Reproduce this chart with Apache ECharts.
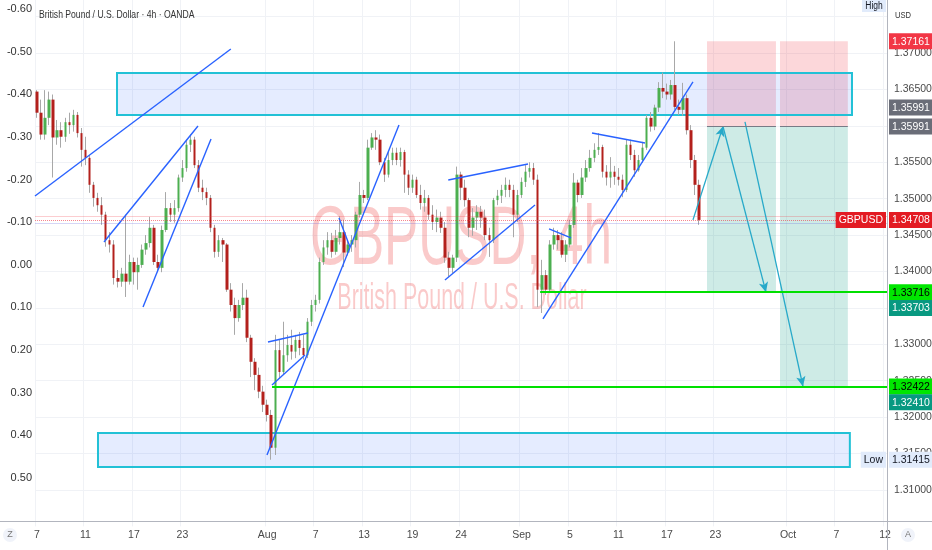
<!DOCTYPE html>
<html>
<head>
<meta charset="utf-8">
<script src="https://cdn.jsdelivr.net/npm/echarts@6/dist/echarts.min.js"></script>
<style>
html,body{margin:0;padding:0;background:#fff;}
#c{width:932px;height:550px;}
</style>
</head>
<body>
<div id="c"></div>
<script>
// ---------------- data ----------------
const headerText = 'British Pound / U.S. Dollar · 4h · OANDA';
const watermarkMain = 'GBPUSD, 4h';
const watermarkSub = 'British Pound / U.S. Dollar';
const startDate = '2025-07-07';
const slotCount = 211;          // 8h slots incl. empty future area
const candlesPerDay = 3;

const tickDates  = ['2025-07-07','2025-07-11','2025-07-17','2025-07-23','2025-08-01','2025-08-07','2025-08-13','2025-08-19','2025-08-24','2025-09-01','2025-09-05','2025-09-11','2025-09-17','2025-09-23','2025-10-01','2025-10-07','2025-10-12'];
const tickLabels = ['7','11','17','23','Aug','7','13','19','24','Sep','5','11','17','23','Oct','7','12'];

// [open, close, low, high] – 8h candles, GBPUSD
const ohlc = [
[1.3647,1.3618,1.3611,1.3649],[1.3618,1.3588,1.3581,1.3636],[1.3588,1.3611,1.3581,1.3649],[1.3611,1.3636,1.3601,1.3647],
[1.3636,1.3584,1.3529,1.3643],[1.3584,1.3594,1.3574,1.3608],[1.3594,1.3585,1.3570,1.3605],[1.3585,1.3605,1.3578,1.3611],
[1.3605,1.3601,1.3589,1.3618],[1.3601,1.3615,1.3592,1.3622],[1.3615,1.3590,1.3584,1.3619],[1.3590,1.3567,1.3544,1.3597],
[1.3567,1.3556,1.3546,1.3585],[1.3556,1.3519,1.3508,1.3560],[1.3519,1.3501,1.3489,1.3523],[1.3501,1.3491,1.3482,1.3508],
[1.3491,1.3478,1.3464,1.3502],[1.3478,1.3443,1.3434,1.3482],[1.3443,1.3437,1.3426,1.3454],[1.3437,1.3391,1.3382,1.3443],
[1.3391,1.3386,1.3378,1.3402],[1.3386,1.3397,1.3379,1.3405],[1.3397,1.3386,1.3365,1.3478],[1.3386,1.3413,1.3382,1.3423],
[1.3413,1.3399,1.3382,1.3419],[1.3399,1.3409,1.3375,1.3419],[1.3409,1.3430,1.3405,1.3437],[1.3430,1.3439,1.3423,1.3450],
[1.3439,1.3460,1.3433,1.3475],[1.3460,1.3413,1.3409,1.3464],[1.3413,1.3405,1.3399,1.3423],[1.3405,1.3457,1.3399,1.3463],
[1.3457,1.3487,1.3454,1.3509],[1.3487,1.3478,1.3468,1.3494],[1.3478,1.3487,1.3467,1.3498],[1.3487,1.3529,1.3482,1.3533],
[1.3529,1.3542,1.3523,1.3553],[1.3542,1.3574,1.3537,1.3581],[1.3574,1.3581,1.3564,1.3588],[1.3581,1.3546,1.3542,1.3585],
[1.3546,1.3515,1.3509,1.3553],[1.3515,1.3509,1.3498,1.3526],[1.3509,1.3501,1.3491,1.3515],[1.3501,1.3460,1.3454,1.3505],
[1.3460,1.3427,1.3419,1.3464],[1.3427,1.3443,1.3420,1.3450],[1.3443,1.3437,1.3413,1.3446],[1.3437,1.3375,1.3372,1.3439],
[1.3375,1.3354,1.3345,1.3384],[1.3354,1.3336,1.3313,1.3364],[1.3336,1.3354,1.3331,1.3361],[1.3354,1.3364,1.3347,1.3384],
[1.3364,1.3309,1.3303,1.3375],[1.3309,1.3276,1.3255,1.3313],[1.3276,1.3258,1.3237,1.3281],[1.3258,1.3235,1.3226,1.3268],
[1.3235,1.3217,1.3207,1.3243],[1.3217,1.3203,1.3194,1.3224],[1.3203,1.3158,1.31415,1.3210],[1.3158,1.3292,1.3148,1.3313],
[1.3292,1.3262,1.3254,1.3306],[1.3262,1.3285,1.3258,1.3331],[1.3285,1.3299,1.3276,1.3313],[1.3299,1.3290,1.3279,1.3320],
[1.3290,1.3306,1.3281,1.3313],[1.3306,1.3295,1.3285,1.3317],[1.3295,1.3285,1.3279,1.3313],[1.3285,1.3331,1.3281,1.3336],
[1.3331,1.3354,1.3325,1.3361],[1.3354,1.3361,1.3345,1.3368],[1.3361,1.3413,1.3356,1.3419],[1.3413,1.3433,1.3409,1.3443],
[1.3433,1.3443,1.3423,1.3454],[1.3443,1.3427,1.3419,1.3453],[1.3427,1.3446,1.3423,1.3457],[1.3446,1.3454,1.3437,1.3476],
[1.3454,1.3426,1.3406,1.3471],[1.3426,1.3437,1.3422,1.3443],[1.3437,1.3443,1.3427,1.3450],[1.3443,1.3478,1.3433,1.3482],
[1.3478,1.3505,1.3474,1.3523],[1.3505,1.3501,1.3494,1.3512],[1.3501,1.3570,1.3498,1.3581],[1.3570,1.3584,1.3567,1.3590],
[1.3584,1.3581,1.3567,1.3594],[1.3581,1.3550,1.3546,1.3588],[1.3550,1.3533,1.3523,1.3556],[1.3533,1.3553,1.3529,1.3564],
[1.3553,1.3563,1.3546,1.3570],[1.3563,1.3553,1.3546,1.3570],[1.3553,1.3564,1.3544,1.3570],[1.3564,1.3533,1.3508,1.3567],
[1.3533,1.3515,1.3505,1.3539],[1.3515,1.3526,1.3508,1.3533],[1.3526,1.3505,1.3501,1.3530],[1.3505,1.3494,1.3485,1.3519],
[1.3494,1.3501,1.3482,1.3512],[1.3501,1.3478,1.3471,1.3505],[1.3478,1.3468,1.3457,1.3491],[1.3468,1.3474,1.3454,1.3485],
[1.3474,1.3460,1.3453,1.3482],[1.3460,1.3419,1.3412,1.3468],[1.3419,1.3405,1.3393,1.3427],[1.3405,1.3419,1.3398,1.3423],
[1.3419,1.3533,1.3413,1.3544],[1.3533,1.3515,1.3498,1.3537],[1.3515,1.3498,1.3489,1.3526],[1.3498,1.3460,1.3447,1.3501],
[1.3460,1.3474,1.3449,1.3487],[1.3474,1.3482,1.3457,1.3491],[1.3482,1.3474,1.3460,1.3490],[1.3474,1.3450,1.3443,1.3485],
[1.3450,1.3443,1.3420,1.3460],[1.3443,1.3498,1.3439,1.3501],[1.3498,1.3504,1.3491,1.3512],[1.3504,1.3512,1.3494,1.3519],
[1.3512,1.3519,1.3502,1.3529],[1.3519,1.3512,1.3502,1.3526],[1.3512,1.3478,1.3447,1.3519],[1.3478,1.3505,1.3468,1.3512],
[1.3505,1.3523,1.3501,1.3529],[1.3523,1.3537,1.3516,1.3546],[1.3537,1.3542,1.3529,1.3550],[1.3542,1.3526,1.3519,1.3549],
[1.3526,1.3375,1.3351,1.3533],[1.3375,1.3395,1.3343,1.3416],[1.3395,1.3375,1.3368,1.3402],[1.3375,1.3437,1.3371,1.3443],
[1.3437,1.3450,1.3430,1.3460],[1.3450,1.3443,1.3430,1.3457],[1.3443,1.3423,1.3419,1.3454],[1.3423,1.3437,1.3413,1.3443],
[1.3437,1.3464,1.3433,1.3471],[1.3464,1.3522,1.3460,1.3535],[1.3522,1.3505,1.3495,1.3526],[1.3505,1.3529,1.3501,1.3542],
[1.3529,1.3542,1.3523,1.3553],[1.3542,1.3556,1.3537,1.3567],[1.3556,1.3567,1.3550,1.3576],[1.3567,1.3571,1.3560,1.3590],
[1.3571,1.3537,1.3529,1.3574],[1.3537,1.3529,1.3518,1.3546],[1.3529,1.3537,1.3515,1.3557],[1.3537,1.3530,1.3519,1.3545],
[1.3530,1.3526,1.3518,1.3542],[1.3526,1.3512,1.3502,1.3533],[1.3512,1.3574,1.3509,1.3581],[1.3574,1.3560,1.3553,1.3581],
[1.3560,1.3539,1.3530,1.3567],[1.3539,1.3553,1.3537,1.3560],[1.3553,1.3570,1.3549,1.3578],[1.3570,1.3611,1.3567,1.3615],
[1.3611,1.3599,1.3592,1.3619],[1.3599,1.3625,1.3594,1.3629],[1.3625,1.3652,1.3619,1.3660],[1.3652,1.3647,1.3638,1.3673],
[1.3647,1.3643,1.3636,1.3658],[1.3643,1.3656,1.3636,1.3663],[1.3656,1.3626,1.3622,1.37161],[1.3626,1.3622,1.3615,1.3636],
[1.3622,1.3638,1.3614,1.3659],[1.3638,1.3594,1.3588,1.3643],[1.3594,1.3553,1.3542,1.3601],[1.3553,1.3519,1.3505,1.3560],
[1.3519,1.34708,1.3464,1.3526]
];

// drawings in (slot index, price)
const trendLines = [
  [-0.5, 1.35037, 48.0, 1.37055],
  [16.59, 1.34405, 39.87, 1.35998],
  [26.25, 1.33513, 43.09, 1.35819],
  [56.95, 1.31481, 89.64, 1.36012],
  [57.2, 1.33032, 67.1, 1.33156],
  [58.19, 1.32442, 66.36, 1.32854],
  [74.78, 1.34735, 77.51, 1.34337],
  [101.85, 1.35256, 121.59, 1.35476],
  [101.03, 1.33883, 123.32, 1.34913],
  [125.3, 1.33348, 162.45, 1.36602],
  [126.8, 1.34584, 132.24, 1.34460],
  [137.44, 1.35902, 150.57, 1.35765]
];
const projectionPaths = [
  [[162.45, 1.34708], [169.88, 1.35991], [180.53, 1.33716]],
  [[175.33, 1.36053], [189.69, 1.32422]]
];
const supplyZone = [19.81, 1.36726, 201.83, 1.36149];
const demandZone = [15.1, 1.31783, 201.3, 1.31316];
const positionFrom   = [165.92, 184.0];
const positionTo     = [183.0, 200.8];
const positionEntry  = [1.35991, 1.35991];
const positionStop   = [1.37161, 1.37161];
const positionTarget = [1.33716, 1.32422];
const targetTags     = [1.33703, 1.32410];
const levelPrices = [1.33716, 1.32422];
const levelStarts = [124.6, 58.2];
const lastPrice = 1.34708;
const highPrice = 1.37161;
const lowPrice = 1.31415;
const symbolName = 'GBPUSD';

// ---------------- build ----------------
const FONT = 'Liberation Sans, Arial, sans-serif';
const categories = [];
const labelOf = {};
const tickMap = {};
tickDates.forEach((d, k) => { tickMap[d] = tickLabels[k]; });
let day = new Date(startDate + 'T00:00:00Z');
while (categories.length < slotCount) {
  const wd = day.getUTCDay();
  if (wd !== 0 && wd !== 6) {
    const iso = day.toISOString().slice(0, 10);
    const prev = new Date(day.getTime() - 86400000).toISOString().slice(0, 10);
    for (let k = 0; k < candlesPerDay && categories.length < slotCount; k++) {
      const key = iso + ' #' + k;
      categories.push(key);
      if (k === 0) {
        let lab = tickMap[iso];
        if (lab === undefined && wd === 1) lab = tickMap[prev];
        if (lab !== undefined) labelOf[key] = lab;
      }
    }
  }
  day = new Date(day.getTime() + 86400000);
}
const xMax = slotCount - 0.5;
const bodies = ohlc.map(c => [c[0], c[1], Math.min(c[0], c[1]), Math.max(c[0], c[1])]);

const HIDDEN = { color: 'rgba(0,0,0,0)', width: 0, type: 'solid' };
function tag(text, bg, fg, shift, pos) {
  const pad = shift > 0 ? [2 * shift, 0, 0, 0] : (shift < 0 ? [0, 0, -2 * shift, 0] : 0);
  return {
    show: true, position: pos || 'end', distance: pos ? 1 : 2, color: fg,
    formatter: '{t|' + text + '}', padding: pad,
    rich: { t: { backgroundColor: bg, color: fg, padding: [3, 3, 2, 3], fontSize: 10.5, fontFamily: FONT, lineHeight: 12 } }
  };
}
function hline(p, from, to, ls, label) {
  return [{ coord: [from, p], lineStyle: Object.assign({ type: 'solid' }, ls), label: label || { show: false }, symbol: 'none' },
          { coord: [to, p], symbol: 'none' }];
}

const ml = [];
// faint price lines
ml.push(hline(1.34752, -0.5, xMax, { color: 'rgba(242,54,69,0.25)', width: 1 }));
ml.push(hline(1.34668, -0.5, xMax, { color: 'rgba(90,90,220,0.25)', width: 1 }));
// trend lines
trendLines.forEach(t => {
  ml.push([{ coord: [t[0], t[1]], lineStyle: { color: '#2962ff', width: 1.4, type: 'solid' }, label: { show: false }, symbol: 'none' },
           { coord: [t[2], t[3]], symbol: 'none' }]);
});
// projected path arrows
projectionPaths.forEach(path => {
  for (let k = 0; k < path.length - 1; k++) {
    ml.push([{ coord: path[k], lineStyle: { color: '#27a9c9', width: 1.3, type: 'solid' }, label: { show: false }, symbol: 'none' },
             { coord: path[k + 1], symbol: 'arrow', symbolSize: [7, 10] }]);
  }
});
// position entry lines
positionFrom.forEach((f, k) => ml.push(hline(positionEntry[k], f, positionTo[k], { color: '#787b86', width: 1 })));
// horizontal levels with tags
levelPrices.forEach((p, k) => ml.push(hline(p, levelStarts[k], xMax, { color: '#00e000', width: 2 }, tag(p.toFixed(5), '#00e600', '#000', 0))));
targetTags.forEach(p => ml.push(hline(p, xMax - 5, xMax, HIDDEN, tag(p.toFixed(5), '#089981', '#fff', 15))));
// last price
ml.push(hline(lastPrice, -0.5, xMax, { color: 'rgba(242,54,69,0.6)', width: 1, type: 'dotted' }, tag(lastPrice.toFixed(5), '#e31b23', '#fff', 0)));
ml.push(hline(lastPrice, xMax - 12, xMax, HIDDEN, tag(symbolName, '#e31b23', '#fff', 0, 'insideEnd')));
// high / entry / low tags
ml.push(hline(highPrice, xMax - 5, xMax, HIDDEN, tag(highPrice.toFixed(5), '#f23645', '#fff', 0)));
ml.push(hline(positionEntry[0], xMax - 5, xMax, HIDDEN, tag(positionEntry[0].toFixed(5), '#6a6d78', '#fff', 0)));
ml.push(hline(positionEntry[1], xMax - 5, xMax, HIDDEN, tag(positionEntry[1].toFixed(5), '#6a6d78', '#fff', -19)));
ml.push(hline(lowPrice, xMax - 5, xMax, HIDDEN, tag(lowPrice.toFixed(5), '#e1ebfb', '#131722', 0)));
ml.push(hline(lowPrice, xMax - 12, xMax, HIDDEN, tag('Low', '#e1ebfb', '#131722', 0, 'insideEnd')));

const ma = [];
positionFrom.forEach((f, k) => {
  ma.push([{ coord: [f, positionStop[k]], itemStyle: { color: 'rgba(242,54,69,0.2)' } }, { coord: [positionTo[k], positionEntry[k]] }]);
  ma.push([{ coord: [f, positionEntry[k]], itemStyle: { color: 'rgba(8,153,129,0.2)' } }, { coord: [positionTo[k], positionTarget[k]] }]);
});
[supplyZone, demandZone].forEach(z => {
  ma.push([{ coord: [z[0], z[1]], itemStyle: { color: 'rgba(41,98,255,0.12)', borderColor: '#22c1d6', borderWidth: 2 } },
           { coord: [z[2], z[3]] }]);
});

const chart = echarts.init(document.getElementById('c'), null, { renderer: 'canvas', width: 932, height: 550 });
chart.setOption({
  animation: false,
  backgroundColor: '#ffffff',
  textStyle: { fontFamily: FONT },
  grid: [
    { left: 35, right: 45, top: -19.83, height: 546.2, containLabel: false, outerBoundsMode: 'none' },
    { left: 35, right: 45, top: -33.7, height: 597, containLabel: false, outerBoundsMode: 'none' }
  ],
  xAxis: [
    { type: 'category', gridIndex: 0, data: categories, boundaryGap: true,
      axisLine: { show: false }, axisTick: { show: false },
      axisLabel: { interval: (i, v) => labelOf[v] !== undefined, formatter: v => labelOf[v] || '',
                   color: '#4a4a4a', fontSize: 10.5, margin: 3 },
      splitLine: { show: true, interval: (i, v) => labelOf[v] !== undefined, lineStyle: { color: '#f0f2f6', width: 1 } } },
    { type: 'value', gridIndex: 0, min: -0.5, max: xMax, show: false, position: 'top' },
    { type: 'value', gridIndex: 1, min: 0, max: 1, show: false }
  ],
  yAxis: [
    { type: 'value', gridIndex: 0, position: 'right', min: 1.305, max: 1.38, interval: 0.005,
      axisLine: { show: false }, axisTick: { show: false },
      axisLabel: { formatter: v => ((v > 1.3725 || v < 1.3075) ? '' : v.toFixed(5)), color: '#4a4a4a', fontSize: 10.5, margin: 7 },
      splitLine: { show: true, showMinLine: false, showMaxLine: false, lineStyle: { color: '#f0f2f6', width: 1 } } },
    { type: 'value', gridIndex: 1, position: 'left', inverse: true, min: -0.7, max: 0.7, interval: 0.1,
      axisLine: { show: false }, axisTick: { show: false }, splitLine: { show: false },
      axisLabel: { formatter: v => { if (v > 0.55 || v < -0.65) return ''; return Math.abs(v) < 1e-9 ? '0.00' : v.toFixed(2); },
                   color: '#333', fontSize: 11, margin: 3 } }
  ],
  series: [
    { type: 'candlestick', name: 'wick', xAxisIndex: 0, yAxisIndex: 0, data: ohlc, barWidth: 1, z: 2,
      itemStyle: { color: '#a8a8a8', color0: '#a8a8a8', borderColor: '#a8a8a8', borderColor0: '#a8a8a8', borderWidth: 1 } },
    { type: 'candlestick', name: 'body', xAxisIndex: 0, yAxisIndex: 0, data: bodies, barWidth: 3, z: 3,
      itemStyle: { color: '#4caf50', color0: '#b3201c', borderColor: '#4caf50', borderColor0: '#b3201c', borderWidth: 0 } },
    { type: 'line', name: 'drawings', xAxisIndex: 1, yAxisIndex: 0, data: [], z: 5, clip: false, silent: true,
      markArea: { silent: true, label: { show: false }, data: ma },
      markLine: { silent: true, symbol: ['none', 'none'], animation: false, precision: 5,
                  lineStyle: { type: 'solid' }, data: ml } }
  ],
  graphic: { elements: [
    { type: 'text', x: 461, y: 241, z: 1, scaleX: 0.61, scaleY: 1,
      style: { text: watermarkMain, font: '84px ' + FONT, fill: 'rgba(238,60,60,0.27)', textAlign: 'center', textVerticalAlign: 'middle' } },
    { type: 'text', x: 462, y: 299, z: 1, scaleX: 0.58, scaleY: 1,
      style: { text: watermarkSub, font: '37px ' + FONT, fill: 'rgba(238,60,60,0.27)', textAlign: 'center', textVerticalAlign: 'middle' } },
    { type: 'text', x: 39, y: 15, z: 50, scaleX: 0.82, scaleY: 1,
      style: { text: headerText, font: '10.5px ' + FONT, fill: '#333', textAlign: 'left', textVerticalAlign: 'middle' } },
    { type: 'line', z: 50, shape: { x1: 0, y1: 521.5, x2: 932, y2: 521.5 }, style: { stroke: '#b2b5be', lineWidth: 1 } },
    { type: 'line', z: 50, shape: { x1: 887.5, y1: 0, x2: 887.5, y2: 550 }, style: { stroke: '#b2b5be', lineWidth: 1 } },
    { type: 'rect', z: 50, shape: { x: 862, y: 0, width: 24, height: 12 }, style: { fill: '#e1ebfb' } },
    { type: 'text', x: 874, y: 6, z: 51, scaleX: 0.85, style: { text: 'High', font: '10px ' + FONT, fill: '#131722', textAlign: 'center', textVerticalAlign: 'middle' } },
    { type: 'text', x: 895, y: 15, z: 51, scaleX: 0.8, style: { text: 'USD', font: '9.5px ' + FONT, fill: '#333', textAlign: 'left', textVerticalAlign: 'middle' } },
    { type: 'circle', z: 50, shape: { cx: 10, cy: 535, r: 7 }, style: { fill: '#f0f3fa' } },
    { type: 'text', x: 10, y: 535, z: 51, style: { text: 'Z', font: '9px ' + FONT, fill: '#777', textAlign: 'center', textVerticalAlign: 'middle' } },
    { type: 'circle', z: 50, shape: { cx: 908, cy: 535, r: 7 }, style: { fill: '#f0f3fa' } },
    { type: 'text', x: 908, y: 535, z: 51, style: { text: 'A', font: '9px ' + FONT, fill: '#777', textAlign: 'center', textVerticalAlign: 'middle' } }
  ] }
});
</script>
</body>
</html>
